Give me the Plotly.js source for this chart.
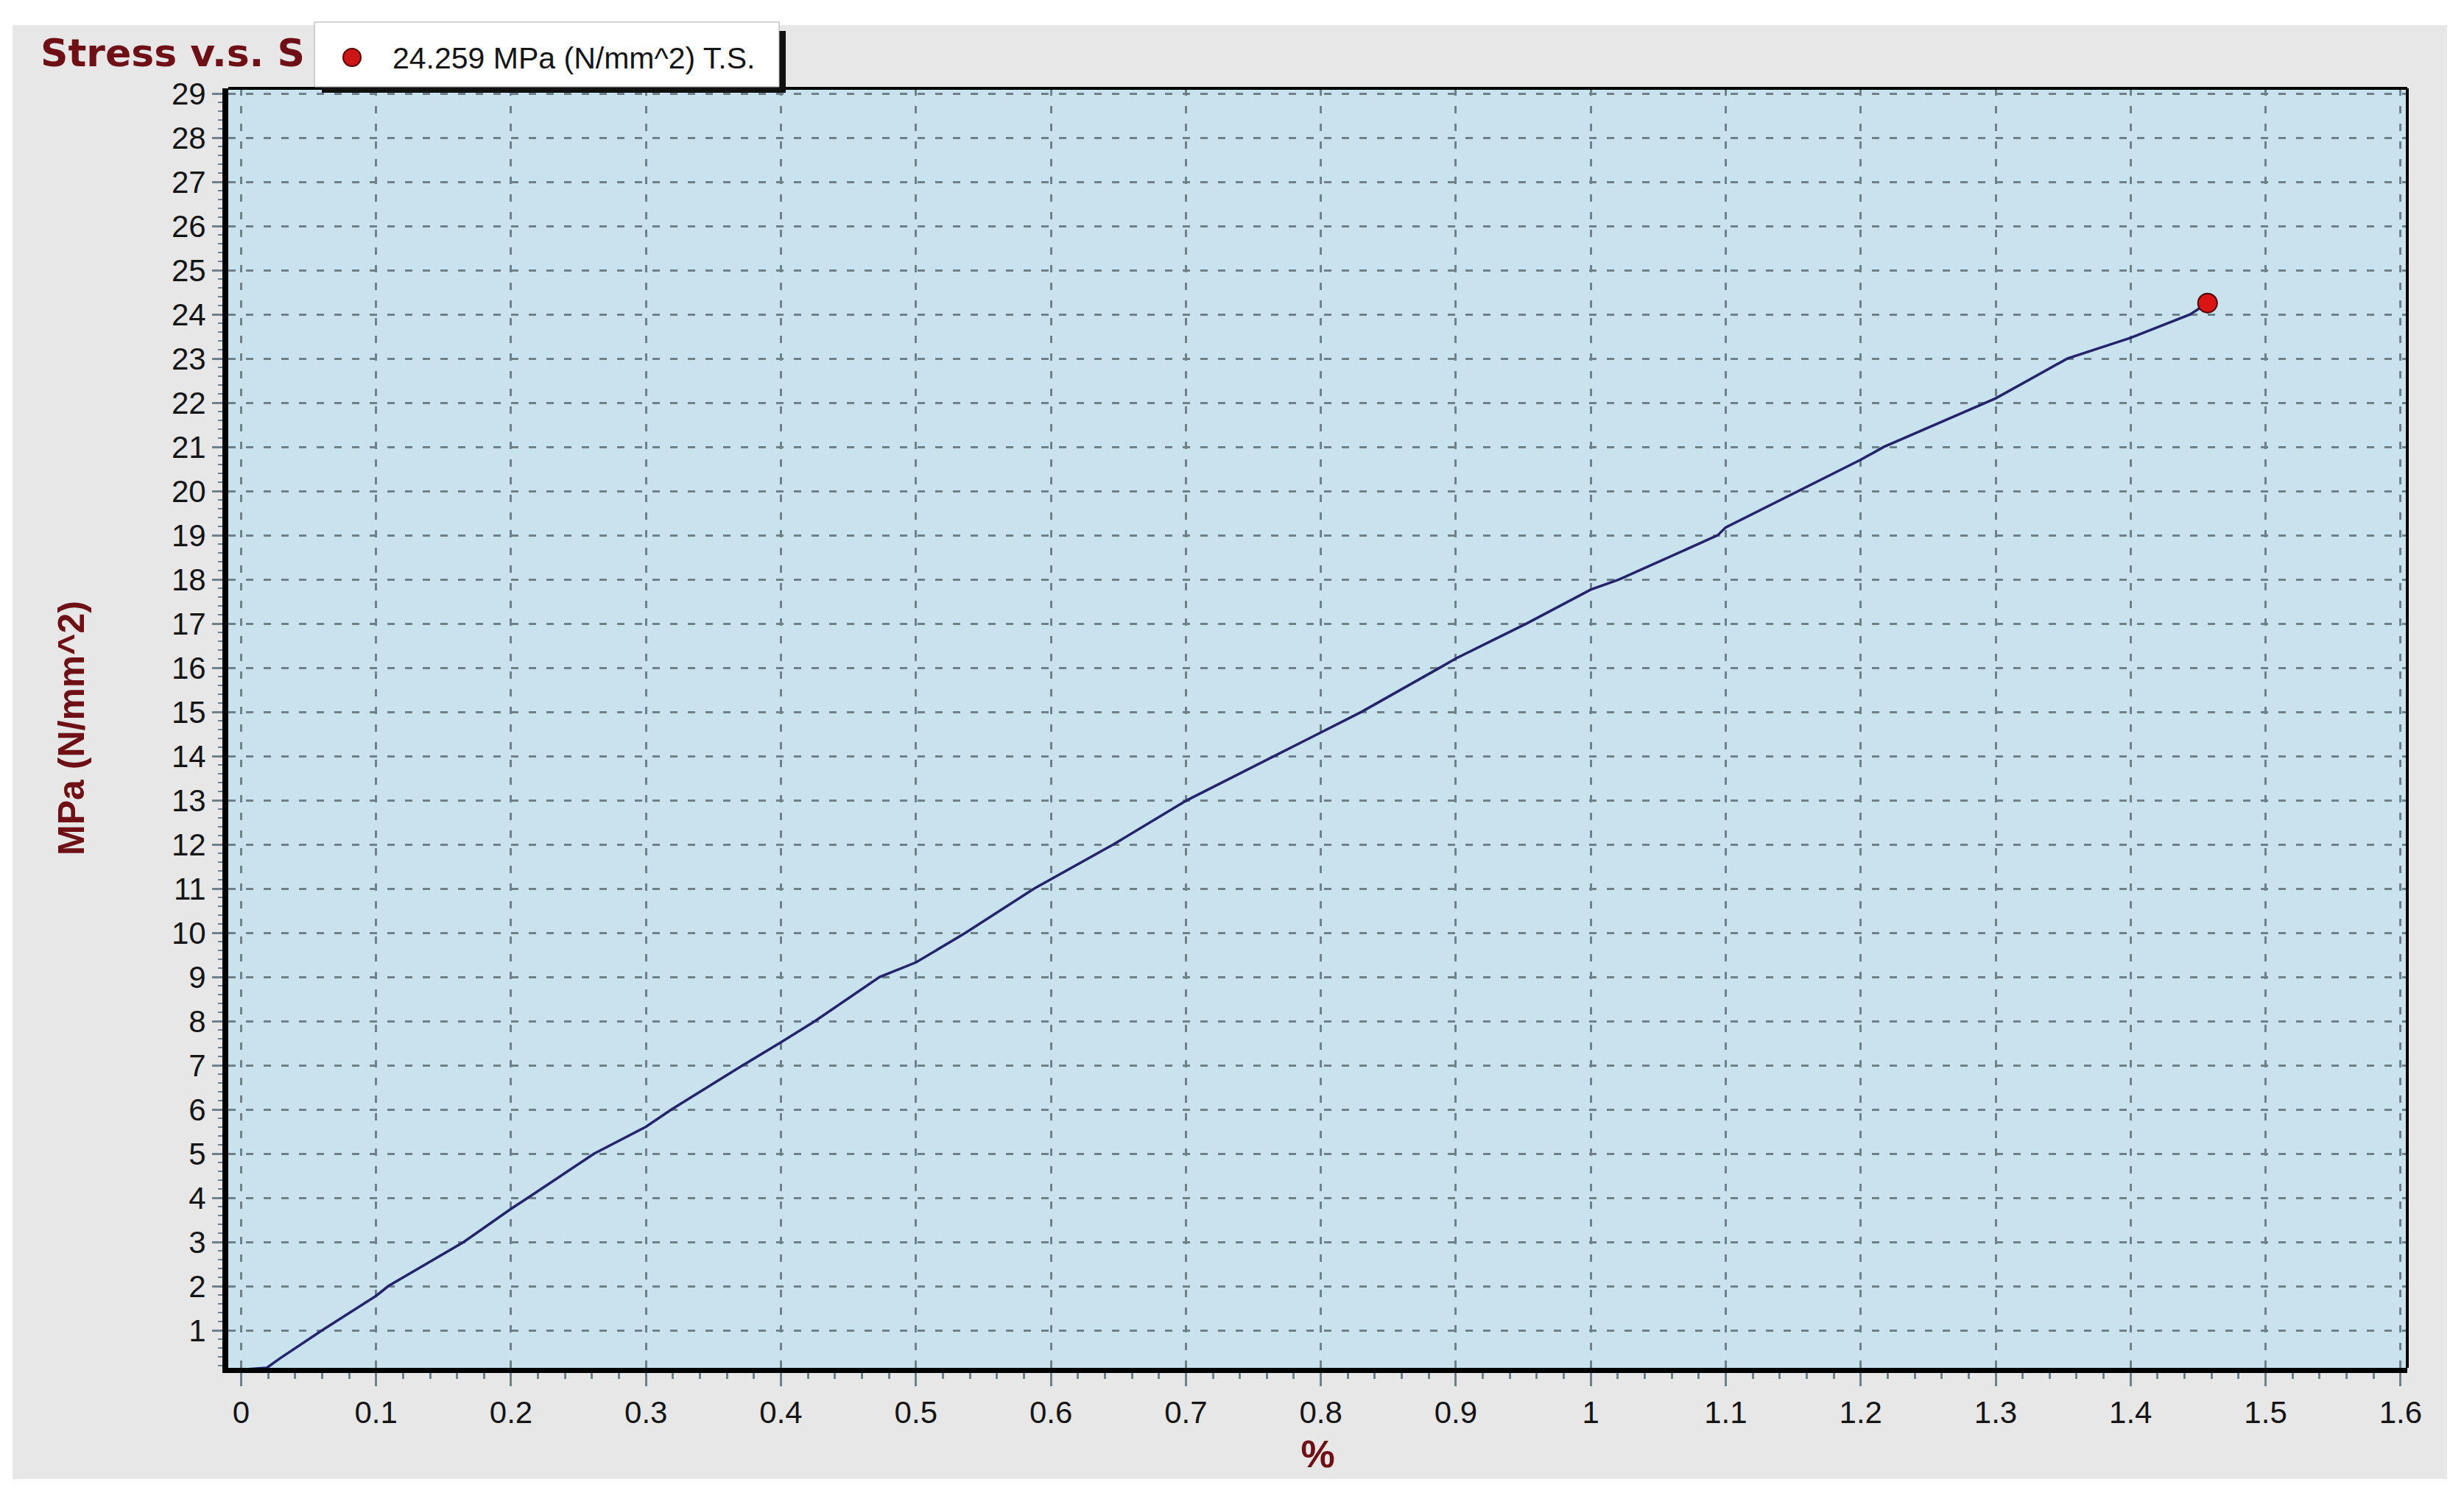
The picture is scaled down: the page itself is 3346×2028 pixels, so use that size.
<!DOCTYPE html>
<html>
<head>
<meta charset="utf-8">
<script src="https://cdn.plot.ly/plotly-3.0.1.min.js"></script>
<style>
  html, body { margin: 0; padding: 0; background: #ffffff; }
  #chart { width: 3346px; height: 2028px; }
</style>
</head>
<body>
<div id="chart"></div>
<script>
// ---- data ----
const strainPct = [0.005, 0.019, 0.0286, 0.060, 0.100, 0.109, 0.165, 0.200, 0.2125, 0.2616, 0.300,
  0.3189, 0.3717, 0.400, 0.4252, 0.4731, 0.500, 0.5368, 0.5876, 0.600, 0.6463, 0.7007,
  0.7657, 0.800, 0.830, 0.888, 0.900, 0.9523, 1.000, 1.021, 1.094, 1.100, 1.154,
  1.200, 1.217, 1.293, 1.300, 1.353, 1.400, 1.444, 1.457];
const stressMPa = [0.12, 0.15, 0.36, 1.00, 1.78, 2.00, 3.00, 3.75, 4.00, 5.00, 5.61,
  6.00, 7.00, 7.52, 8.00, 9.00, 9.33, 10.00, 11.00, 11.21, 12.00, 13.00,
  14.00, 14.53, 15.00, 16.00, 16.21, 17.00, 17.77, 18.00, 19.00, 19.18, 20.00,
  20.71, 21.00, 22.00, 22.10, 23.00, 23.47, 24.00, 24.259];
const tsStrain = [1.457];
const tsStress = [24.259];
const xTickVals = [0, 0.1, 0.2, 0.3, 0.4, 0.5, 0.6, 0.7, 0.8, 0.9, 1, 1.1, 1.2, 1.3, 1.4, 1.5, 1.6];
const yTickVals = [1, 2, 3, 4, 5, 6, 7, 8, 9, 10, 11, 12, 13, 14, 15, 16, 17, 18, 19, 20, 21, 22, 23, 24, 25, 26, 27, 28, 29];
const chartTitle = 'Stress v.s. S';
const xTitle = '%';
const yTitle = 'MPa (N/mm^2)';
const legendLabel = tsStress[0].toFixed(3) + ' MPa (N/mm^2) T.S.';

// ---- layout geometry (pixels) ----
const W = 3346, H = 2028;
const M = { l: 310, r: 77, t: 120, b: 170 };
const PW = W - M.l - M.r, PH = H - M.t - M.b;
const px = x => (x - M.l) / PW;          // pixel x -> paper
const py = y => (H - M.b - y) / PH;      // pixel y -> paper

const gridCol = '#6e8189';
const darkRed = '#6e1016';
const tickFont = { family: 'Liberation Sans, Arial, sans-serif', size: 42, color: '#151515' };

const traces = [
  {
    x: strainPct, y: stressMPa, type: 'scatter', mode: 'lines',
    line: { color: '#24246c', width: 3.5 }, showlegend: false, hoverinfo: 'skip'
  },
  {
    x: tsStrain, y: tsStress, type: 'scatter', mode: 'markers', name: legendLabel,
    marker: { size: 26, color: '#dd1414', line: { color: '#4a0000', width: 2 } },
    showlegend: false, cliponaxis: false
  }
];

const layout = {
  width: W, height: H,
  margin: M,
  paper_bgcolor: '#ffffff',
  plot_bgcolor: '#c8e2ee',
  showlegend: false,
  title: {
    text: chartTitle,
    font: { family: 'DejaVu Sans, sans-serif', size: 52, color: darkRed, weight: 'bold' },
    x: 55 / W, xref: 'container', xanchor: 'left',
    y: 1 - 72 / H, yref: 'container', yanchor: 'middle'
  },
  xaxis: {
    range: [-0.0095, 1.605],
    tickvals: xTickVals,
    ticks: 'outside', ticklen: 18, tickwidth: 3, tickcolor: gridCol,
    tickfont: tickFont,
    showline: true, linecolor: '#000000', linewidth: 7, mirror: false,
    showgrid: true, gridcolor: gridCol, gridwidth: 3, griddash: '10px,14px',
    zeroline: false,
    minor: { dtick: 0.02, tick0: 0, ticks: 'outside', ticklen: 8, tickwidth: 3, tickcolor: gridCol, showgrid: false },
    title: { text: xTitle, standoff: 18,
      font: { family: 'Liberation Sans, Arial, sans-serif', size: 52, color: darkRed, weight: 'bold' } }
  },
  yaxis: {
    range: [0.15, 29.12],
    tickvals: yTickVals,
    ticks: 'outside', ticklen: 14, tickwidth: 3, tickcolor: gridCol,
    tickfont: tickFont,
    showline: true, linecolor: '#000000', linewidth: 8, mirror: false,
    showgrid: true, gridcolor: gridCol, gridwidth: 3, griddash: '10px,14px',
    zeroline: false,
    minor: { dtick: 0.2, tick0: 0, ticks: 'outside', ticklen: 6, tickwidth: 2, tickcolor: gridCol, showgrid: false },
    title: { text: yTitle, standoff: 105,
      font: { family: 'Liberation Sans, Arial, sans-serif', size: 50, color: darkRed, weight: 'bold' } }
  },
  shapes: [
    // gray panel behind everything
    { type: 'rect', xref: 'paper', yref: 'paper', layer: 'below',
      x0: px(17), x1: px(3323), y0: py(2009), y1: py(34),
      fillcolor: '#e7e7e7', line: { width: 0 } },
    // plot area background
    { type: 'rect', xref: 'paper', yref: 'paper', layer: 'below',
      x0: 0, x1: 1, y0: 0, y1: 1, fillcolor: '#c8e2ee', line: { width: 0 } },
    // thin top and right frame
    { type: 'line', xref: 'paper', yref: 'paper', layer: 'above',
      x0: 0, x1: 1, y0: 1, y1: 1, line: { color: '#000000', width: 4 } },
    { type: 'line', xref: 'paper', yref: 'paper', layer: 'above',
      x0: 1, x1: 1, y0: 0, y1: 1, line: { color: '#000000', width: 4 } },
    // legend box: shadow then white box
    { type: 'rect', xref: 'paper', yref: 'paper', layer: 'above',
      x0: px(437), x1: px(1067), y0: py(126), y1: py(42),
      fillcolor: '#111111', line: { width: 0 } },
    { type: 'rect', xref: 'paper', yref: 'paper', layer: 'above',
      x0: px(427), x1: px(1058), y0: py(118), y1: py(30),
      fillcolor: '#ffffff', line: { color: '#a8a8a8', width: 1 } },
    // legend symbol
    { type: 'circle', xref: 'paper', yref: 'paper', layer: 'above',
      x0: px(466), x1: px(490), y0: py(90), y1: py(66),
      fillcolor: '#cc1515', line: { color: '#5a0000', width: 2 } }
  ],
  annotations: [
    { text: legendLabel, xref: 'paper', yref: 'paper',
      x: px(531), y: py(79), xanchor: 'left', yanchor: 'middle', showarrow: false,
      font: { family: 'Liberation Sans, Arial, sans-serif', size: 41, color: '#151515' } }
  ]
};

Plotly.newPlot('chart', traces, layout, { staticPlot: true, displayModeBar: false });
</script>
</body>
</html>
